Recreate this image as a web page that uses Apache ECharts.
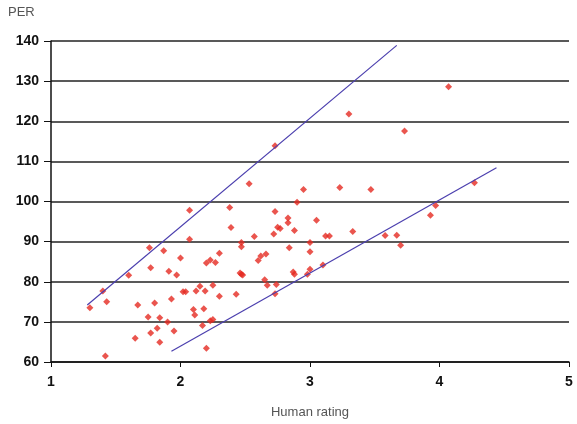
<!DOCTYPE html>
<html><head><meta charset="utf-8">
<script src="https://cdn.jsdelivr.net/npm/echarts@6/dist/echarts.min.js"></script>
<style>html,body{margin:0;padding:0;background:#fff}#c{width:577px;height:424px}</style>
</head><body><div id="c"></div>
<script>
const ratingX = [0.99,1.30,1.40,1.43,1.42,1.60,1.65,1.67,1.75,1.76,1.77,1.77,1.80,1.82,1.84,1.84,1.87,1.90,1.91,1.93,1.95,1.97,2.00,2.02,2.04,2.07,2.07,2.10,2.11,2.12,2.15,2.17,2.18,2.19,2.20,2.20,2.23,2.23,2.25,2.25,2.27,2.30,2.30,
2.53,2.95,3.23,3.47,2.90,2.38,2.73,3.05,2.83,2.83,2.75,2.77,2.39,2.88,2.72,2.57,3.12,3.15,3.33,2.47,2.47,3.00,2.84,3.00,2.66,2.62,2.60,3.00,3.10,2.87,2.88,2.98,2.46,2.47,2.48,2.65,2.67,2.74,2.73,2.43,
4.07,3.30,3.73,2.73,4.27,3.97,3.93,3.58,3.67,3.70];
const perY = [78.9,73.5,77.7,75.0,61.5,81.6,65.9,74.2,71.2,88.5,83.5,67.2,74.7,68.4,64.9,71.0,87.7,70.0,82.6,75.7,67.7,81.7,85.9,77.5,77.5,97.8,90.6,73.1,71.7,77.7,78.9,69.1,73.3,77.7,84.7,63.4,85.4,70.3,70.6,79.1,84.8,87.1,76.4,
104.4,103.0,103.5,103.0,99.8,98.5,97.5,95.3,95.9,94.7,93.6,93.3,93.5,92.8,91.9,91.3,91.4,91.4,92.5,89.8,88.7,89.8,88.5,87.5,86.9,86.4,85.3,83.1,84.2,82.4,81.9,81.9,82.2,81.9,81.7,80.5,79.1,79.3,77.0,76.9,
128.6,121.8,117.6,113.9,104.7,99.0,96.6,91.5,91.6,89.1];
const upperLineX = [1.28, 3.67];
const upperLineY = [74.2, 138.9];
const lowerLineX = [1.93, 4.44];
const lowerLineY = [62.7, 108.4];
const xTicks = [1,2,3,4,5];
const yTicks = [60,70,80,90,100,110,120,130,140];

const pts = ratingX.map((x,i)=>[x, perY[i]]);
const up = upperLineX.map((x,i)=>[x, upperLineY[i]]);
const lo = lowerLineX.map((x,i)=>[x, lowerLineY[i]]);

const chart = echarts.init(document.getElementById('c'), null, {renderer:'canvas'});
chart.setOption({
  animation:false,
  grid:{left:51,right:8,top:41,bottom:57,containLabel:false},
  xAxis:{type:'value',min:1,max:5,interval:1,
    name:'Human rating',nameLocation:'middle',nameGap:44,
    nameTextStyle:{color:'#555',fontSize:13,fontFamily:'Liberation Sans, Arial, sans-serif'},
    axisLine:{show:true,lineStyle:{color:'#111',width:1.5}},
    axisTick:{show:true,length:5,lineStyle:{color:'#111'}},
    axisLabel:{color:'#111',fontSize:14,fontWeight:'bold',margin:13,fontFamily:'Liberation Sans, Arial, sans-serif'},
    splitLine:{show:false}},
  yAxis:{type:'value',min:60,max:140,interval:10,
    axisLine:{show:true,lineStyle:{color:'#111',width:1.5}},
    axisTick:{show:true,length:7,lineStyle:{color:'#111'}},
    axisLabel:{color:'#111',fontSize:14,fontWeight:'bold',margin:12,fontFamily:'Liberation Sans, Arial, sans-serif'},
    splitLine:{show:true,lineStyle:{color:'#222',width:1.5}}},
  graphic:[{type:'text',left:8,top:6,style:{text:'PER',fill:'#555',fontSize:13,fontFamily:'Liberation Sans, Arial, sans-serif'}}],
  series:[
    {type:'scatter',data:pts,symbol:'diamond',symbolSize:7,itemStyle:{color:'#e52a22'}},
    {type:'line',data:up,symbol:'none',lineStyle:{color:'#4b3fae',width:1.2}},
    {type:'line',data:lo,symbol:'none',lineStyle:{color:'#4b3fae',width:1.2}}
  ]
});
</script></body></html>
